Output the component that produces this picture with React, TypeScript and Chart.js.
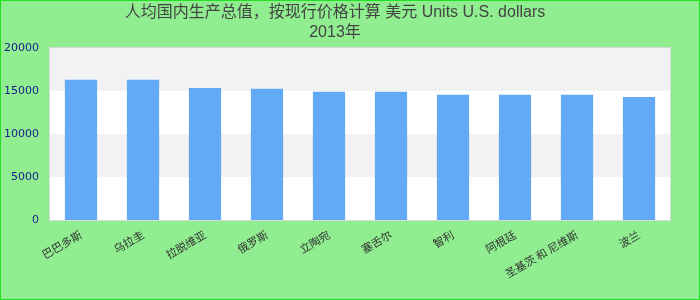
import React, { useEffect, useRef } from "react";
import { Chart, registerables } from "chart.js";

Chart.register(...registerables);

const categories = [
  "巴巴多斯",
  "乌拉圭",
  "拉脱维亚",
  "俄罗斯",
  "立陶宛",
  "塞舌尔",
  "智利",
  "阿根廷",
  "圣基茨 和 尼维斯",
  "波兰",
];
const values = [16300, 16300, 15350, 15250, 14900, 14900, 14550, 14550, 14550, 14300];
const titleLines = ["人均国内生产总值，按现行价格计算 美元 Units U.S. dollars", "2013年"];
const yMin = 0;
const yMax = 20000;
const yStep = 5000;

const bandsPlugin = {
  id: "bands",
  beforeDatasetsDraw(chart: any) {
    const { ctx, chartArea, scales } = chart;
    const y = scales.y;
    ctx.save();
    ctx.fillStyle = "#ffffff";
    ctx.fillRect(chartArea.left, chartArea.top, chartArea.right - chartArea.left, chartArea.bottom - chartArea.top);
    ctx.fillStyle = "#f2f2f2";
    let i = 0;
    for (let v = yMin; v < yMax; v += yStep, i++) {
      if (i % 2 === 1) {
        const top = y.getPixelForValue(v + yStep);
        const bottom = y.getPixelForValue(v);
        ctx.fillRect(chartArea.left, top, chartArea.right - chartArea.left, bottom - top);
      }
    }
    ctx.restore();
  },
  afterDraw(chart: any) {
    const { ctx, chartArea } = chart;
    ctx.save();
    ctx.strokeStyle = "#d9d9d9";
    ctx.lineWidth = 1;
    ctx.strokeRect(
      Math.round(chartArea.left) - 0.5,
      Math.round(chartArea.top) - 0.5,
      Math.round(chartArea.right - chartArea.left) + 1,
      Math.round(chartArea.bottom - chartArea.top) + 1
    );
    ctx.restore();
  },
};

export default function App() {
  const ref = useRef<HTMLCanvasElement | null>(null);

  useEffect(() => {
    if (!ref.current) return;
    const chart = new Chart(ref.current, {
      type: "bar",
      data: {
        labels: categories,
        datasets: [
          {
            data: values,
            backgroundColor: "rgb(98,170,245)",
            borderWidth: 0,
            categoryPercentage: 1,
            barPercentage: 0.52,
          },
        ],
      },
      options: {
        responsive: false,
        animation: false,
        devicePixelRatio: 1,
        layout: { padding: { left: 0, right: 30, top: 0, bottom: 0 } },
        plugins: {
          legend: { display: false },
          tooltip: { enabled: false },
          title: {
            display: true,
            text: titleLines,
            color: "#444444",
            font: { family: "'Liberation Sans', 'Noto Sans CJK SC', sans-serif", size: 16, weight: "normal", lineHeight: 1.25 },
            padding: { top: 3, bottom: 5 },
          },
        },
        scales: {
          x: {
            grid: { display: false, drawTicks: false },
            border: { display: false },
            ticks: {
              color: "#333333",
              font: { family: "'Noto Sans CJK SC', sans-serif", size: 11 },
              minRotation: 30,
              maxRotation: 30,
              padding: 8,
              autoSkip: false,
            },
            afterFit(scale: any) {
              scale.height = 80;
            },
          },
          y: {
            min: yMin,
            max: yMax,
            grid: { display: false, drawTicks: false },
            border: { display: false },
            ticks: {
              stepSize: yStep,
              color: "#1a1a8f",
              font: { family: "'DejaVu Sans', sans-serif", size: 11 },
              padding: 11,
              callback: (v: any) => String(v),
            },
            afterFit(scale: any) {
              scale.width = 50;
            },
          },
        },
      },
      plugins: [bandsPlugin],
    });
    return () => chart.destroy();
  }, []);

  return (
    <div style={{ position: "fixed", left: 0, top: 0, width: 700, height: 300, background: "#90ee90" }}>
      <canvas
        ref={ref}
        width={700}
        height={300}
        style={{ display: "block", width: 700, height: 300, outline: "1px solid #22e022", outlineOffset: -1 }}
      />
    </div>
  );
}
